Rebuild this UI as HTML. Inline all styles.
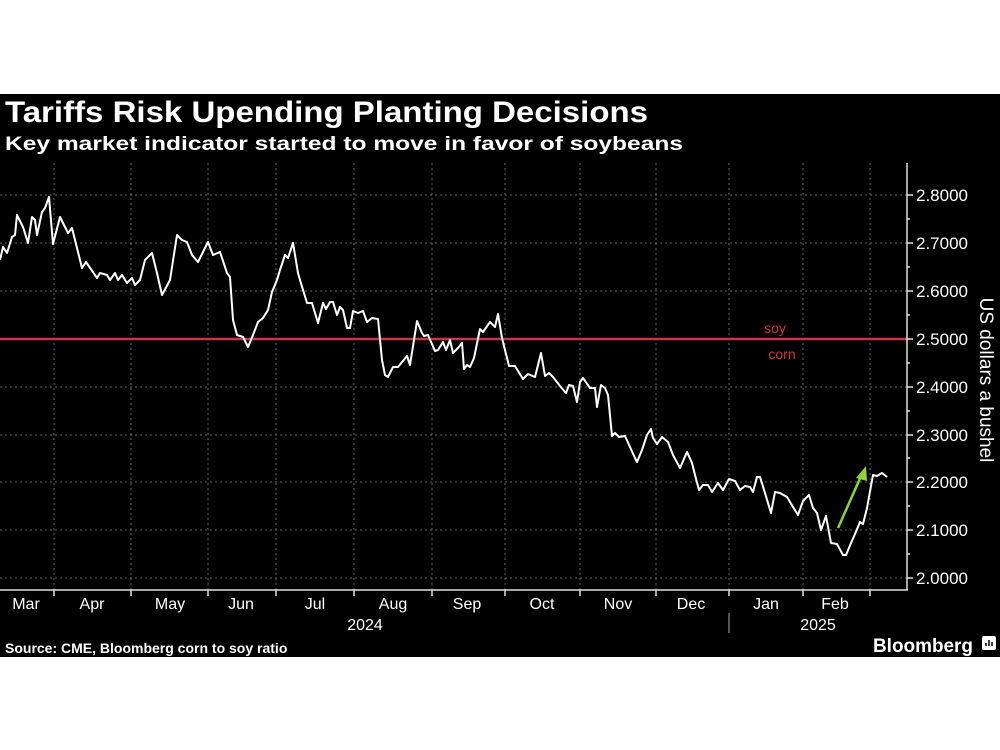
<!DOCTYPE html>
<html><head><meta charset="utf-8"><style>
body{margin:0;background:#fff;}
svg{display:block;font-family:"Liberation Sans",sans-serif;}
</style></head><body>
<svg width="1000" height="750" viewBox="0 0 1000 750">
<rect x="0" y="0" width="1000" height="750" fill="#fff"/>
<rect x="0" y="94" width="1000" height="563" fill="#000"/>
<text x="5" y="122" fill="#fff" font-size="30" font-weight="bold" textLength="643" lengthAdjust="spacingAndGlyphs">Tariffs Risk Upending Planting Decisions</text>
<text x="5" y="150" fill="#fff" font-size="19" font-weight="bold" textLength="678" lengthAdjust="spacingAndGlyphs">Key market indicator started to move in favor of soybeans</text>
<g stroke="#666" stroke-width="1" stroke-dasharray="2,3">
<line x1="0" x2="907" y1="195" y2="195"/><line x1="0" x2="907" y1="243" y2="243"/>
<line x1="0" x2="907" y1="291" y2="291"/><line x1="0" x2="907" y1="387" y2="387"/>
<line x1="0" x2="907" y1="435" y2="435"/><line x1="0" x2="907" y1="482" y2="482"/>
<line x1="0" x2="907" y1="530" y2="530"/><line x1="0" x2="907" y1="578" y2="578"/>
<g>
<line x1="54" x2="54" y1="163" y2="590"/><line x1="131" x2="131" y1="163" y2="590"/>
<line x1="208" x2="208" y1="163" y2="590"/><line x1="276" x2="276" y1="163" y2="590"/>
<line x1="354" x2="354" y1="163" y2="590"/><line x1="432" x2="432" y1="163" y2="590"/>
<line x1="505" x2="505" y1="163" y2="590"/><line x1="580" x2="580" y1="163" y2="590"/>
<line x1="656" x2="656" y1="163" y2="590"/><line x1="729" x2="729" y1="163" y2="590"/>
<line x1="803" x2="803" y1="163" y2="590"/><line x1="870" x2="870" y1="163" y2="590"/>
</g></g>
<line x1="0" x2="907" y1="339" y2="339" stroke="#c8364a" stroke-width="2.5"/>
<text x="775" y="333" fill="#c8364a" font-size="14" text-anchor="middle">soy</text>
<text x="782" y="359" fill="#c8364a" font-size="14" text-anchor="middle">corn</text>
<polyline fill="none" stroke="#fff" stroke-width="2" stroke-linejoin="round" points="0,260 3,247 7,253 12,237 15,235 17,215 23,227 28,243 32,217 35,220 37,235 42,212 45,208 49,197 53,244 60,217 68,233 72,228 82,268 86,262 97,278 100,273 107,275 110,280 115,273 118,280 122,275 127,283 132,278 135,285 140,280 145,260 152,253 157,273 162,295 170,280 177,235 182,240 187,242 192,255 198,262 208,242 213,255 220,252 227,273 230,277 233,320 237,335 243,337 248,347 253,335 258,322 263,318 268,310 272,292 277,280 280,270 285,255 288,258 293,243 298,273 300,280 307,303 312,303 318,323 323,303 326,309 330,302 333,302 337,315 340,307 343,310 347,328 350,328 353,311 358,313 363,311 367,322 372,318 378,319 382,360 385,375 388,377 393,367 398,367 407,356 410,365 417,321 422,333 424,336 428,335 435,351 438,350 443,342 446,350 450,340 453,353 458,348 462,343 464,369 467,365 470,367 474,358 480,329 483,332 490,322 495,327 498,314 502,338 509,366 515,366 523,379 528,374 535,377 541,353 545,376 549,373 553,377 560,386 566,393 569,385 573,386 577,402 580,382 583,378 590,388 595,388 597,407 601,385 605,388 608,395 612,436 615,433 619,437 625,436 630,447 635,458 637,462 642,450 647,435 651,429 653,438 657,444 662,437 668,442 673,455 680,468 687,452 692,463 695,475 699,490 703,485 708,485 712,492 718,483 723,490 729,479 735,481 740,490 745,486 750,487 753,492 757,477 760,477 765,493 771,513 775,492 780,493 787,497 793,507 798,515 803,501 809,495 813,508 817,513 821,530 826,516 831,543 837,544 843,555 846,555 851,543 855,534 860,522 863,524 867,508 873,475 877,476 882,473 887,477"/>
<line x1="838" y1="528" x2="862" y2="474" stroke="#8cd43a" stroke-width="2.5"/>
<polygon points="866,466 856,478 867,481" fill="#8cd43a"/>
<line x1="0" x2="908" y1="590" y2="590" stroke="#ddd" stroke-width="1.5"/>
<line x1="907" x2="907" y1="163" y2="590" stroke="#ddd" stroke-width="1.5"/>
<g stroke="#ddd" stroke-width="1.5">
<line x1="907" x2="913" y1="195" y2="195"/><line x1="907" x2="913" y1="243" y2="243"/><line x1="907" x2="913" y1="291" y2="291"/><line x1="907" x2="913" y1="339" y2="339"/><line x1="907" x2="913" y1="387" y2="387"/><line x1="907" x2="913" y1="435" y2="435"/><line x1="907" x2="913" y1="482" y2="482"/><line x1="907" x2="913" y1="530" y2="530"/><line x1="907" x2="913" y1="578" y2="578"/>
<line x1="907" x2="910" y1="219" y2="219"/><line x1="907" x2="910" y1="267" y2="267"/><line x1="907" x2="910" y1="315" y2="315"/><line x1="907" x2="910" y1="363" y2="363"/><line x1="907" x2="910" y1="411" y2="411"/><line x1="907" x2="910" y1="458" y2="458"/><line x1="907" x2="910" y1="506" y2="506"/><line x1="907" x2="910" y1="554" y2="554"/>
<line x1="54" x2="54" y1="590" y2="596"/><line x1="131" x2="131" y1="590" y2="596"/><line x1="208" x2="208" y1="590" y2="596"/><line x1="276" x2="276" y1="590" y2="596"/><line x1="354" x2="354" y1="590" y2="596"/><line x1="432" x2="432" y1="590" y2="596"/><line x1="505" x2="505" y1="590" y2="596"/><line x1="580" x2="580" y1="590" y2="596"/><line x1="656" x2="656" y1="590" y2="596"/><line x1="729" x2="729" y1="590" y2="596"/><line x1="803" x2="803" y1="590" y2="596"/><line x1="870" x2="870" y1="590" y2="596"/>
</g>
<line x1="729" x2="729" y1="613" y2="633" stroke="#aaa" stroke-width="1"/>
<g fill="#fff" font-size="17">
<text x="916" y="201">2.8000</text><text x="916" y="249">2.7000</text><text x="916" y="297">2.6000</text><text x="916" y="345">2.5000</text><text x="916" y="393">2.4000</text><text x="916" y="441">2.3000</text><text x="916" y="488">2.2000</text><text x="916" y="536">2.1000</text><text x="916" y="584">2.0000</text>
</g>
<text transform="translate(980,380) rotate(90)" fill="#fff" font-size="19" text-anchor="middle">US dollars a bushel</text>
<g fill="#fff" font-size="16" text-anchor="middle">
<text x="26" y="609">Mar</text><text x="92" y="609">Apr</text><text x="170" y="609">May</text><text x="241" y="609">Jun</text><text x="315" y="609">Jul</text><text x="393" y="609">Aug</text><text x="467" y="609">Sep</text><text x="542" y="609">Oct</text><text x="618" y="609">Nov</text><text x="691" y="609">Dec</text><text x="766" y="609">Jan</text><text x="835" y="609">Feb</text>
<text x="365" y="630">2024</text><text x="818" y="630">2025</text>
</g>
<text x="5" y="653" fill="#fff" font-size="14" font-weight="bold">Source: CME, Bloomberg corn to soy ratio</text>
<text x="873" y="652" fill="#fff" font-size="19" font-weight="bold" textLength="100" lengthAdjust="spacingAndGlyphs">Bloomberg</text>
<rect x="982" y="636" width="14" height="14" rx="2" fill="#fff"/>
<g stroke="#000" stroke-width="1.5"><line x1="986" x2="986" y1="646" y2="643"/><line x1="989" x2="989" y1="646" y2="640"/><line x1="992" x2="992" y1="646" y2="642"/></g>
</svg>
</body></html>
